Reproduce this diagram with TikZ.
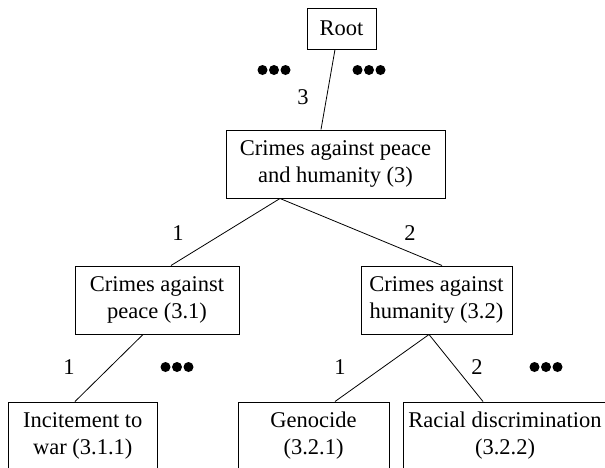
\documentclass[tikz,border=0pt]{standalone}
\usepackage{fontspec}
\setmainfont{Liberation Serif}
\usetikzlibrary{positioning}

\begin{document}
\begin{tikzpicture}[
    x=1pt, y=-1pt,
    box/.style={rectangle, draw, line width=1pt, align=center, inner sep=0pt, minimum height=68pt, font=\fontsize{22.5}{27}\selectfont},
    link/.style={line width=0.8pt},
    weight/.style={font=\fontsize{22.5}{26}\selectfont, inner sep=0pt}
]
    \useasboundingbox (0,0) rectangle (605,467);
    \clip (0,0) rectangle (605,467);

    \node[box, minimum width=69pt, minimum height=41pt] (root) at (341.5,28.5) {Root};
    \node[box, minimum width=219pt] (cap) at (335.5,164) {Crimes against peace\\and humanity (3)};
    \node[box, minimum width=164pt] (peace) at (157,300) {Crimes against\\peace (3.1)};
    \node[box, minimum width=151pt] (hum) at (436.5,300) {Crimes against\\humanity (3.2)};
    \node[box, minimum width=148.5pt] (war) at (82.75,436) {Incitement to\\war (3.1.1)};
    \node[box, minimum width=151pt] (geno) at (313.5,436) {Genocide\\(3.2.1)};
    \node[box, minimum width=204pt] (racial) at (505,436) {Racial discrimination\\(3.2.2)};

    \draw[link] ([xshift=-6.5pt]root.south) -- ([xshift=-14.5pt]cap.north);
    \draw[link] ([xshift=-55.5pt]cap.south) -- ([xshift=14pt]peace.north);
    \draw[link] ([xshift=-55.5pt]cap.south) -- ([xshift=5.5pt]hum.north);
    \draw[link] ([xshift=-14pt]peace.south) -- ([xshift=-7.75pt]war.north);
    \draw[link] ([xshift=-7.5pt]hum.south) -- ([xshift=21.5pt]geno.north);
    \draw[link] ([xshift=-7.5pt]hum.south) -- ([xshift=-22pt]racial.north);

    % edge numbers
    \node[weight] (w3) at (303,97) {3};
    \node[weight] (w31) at (178,233) {1};
    \node[weight] (w32) at (410,233) {2};
    \node[weight] (w311) at (69,367) {1};
    \node[weight] (w321) at (340,367) {1};
    \node[weight] (w322) at (477,367) {2};

    % omitted siblings
    \foreach \x/\y in {274/70, 369/70, 177/367, 546/367}
        \foreach \d in {-11.5,0,11.5}
            \fill ({\x+\d},\y) circle (5pt);
\end{tikzpicture}
\end{document}
